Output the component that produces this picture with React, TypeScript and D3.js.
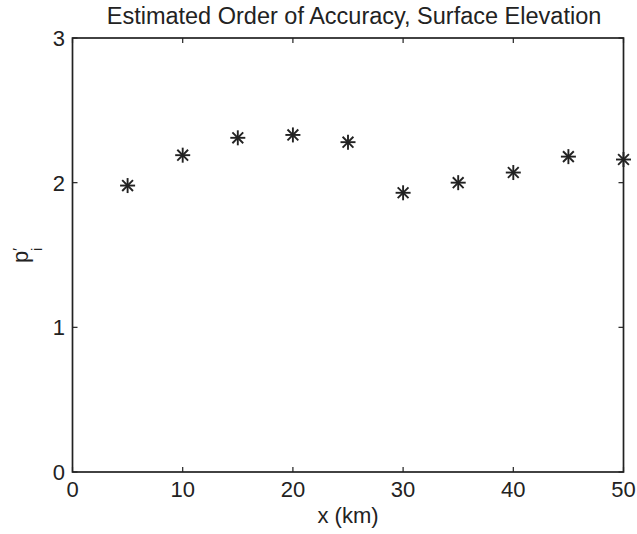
import React from "react";
import * as d3 from "d3";

const xValues = [5, 10, 15, 20, 25, 30, 35, 40, 45, 50];
const pValues = [1.98, 2.19, 2.31, 2.33, 2.28, 1.93, 2.0, 2.07, 2.18, 2.16];
const xTicks = [0, 10, 20, 30, 40, 50];
const yTicks = [0, 1, 2, 3];
const title = "Estimated Order of Accuracy, Surface Elevation";
const xLabel = "x (km)";

export default function App() {
  const W = 637, H = 534;
  const m = { left: 72.5, right: 13.5, top: 38, bottom: 62 };
  const x = d3.scaleLinear().domain([0, 50]).range([m.left, W - m.right]);
  const y = d3.scaleLinear().domain([0, 3]).range([H - m.bottom, m.top]);
  const col = "#222";
  const font = "'Liberation Sans', Arial, Helvetica, sans-serif";
  const fs = 22;
  const tl = 5;
  const r = 7.5;
  const star = (cx: number, cy: number, k: number) => {
    const d = r * 0.72;
    return (
      <g key={k} stroke={col} strokeWidth={1.9}>
        <line x1={cx - r} y1={cy} x2={cx + r} y2={cy} />
        <line x1={cx} y1={cy - r} x2={cx} y2={cy + r} />
        <line x1={cx - d} y1={cy - d} x2={cx + d} y2={cy + d} />
        <line x1={cx - d} y1={cy + d} x2={cx + d} y2={cy - d} />
      </g>
    );
  };
  const [x0, x1] = x.range();
  const [y0, y1] = y.range();
  return (
    <svg width={W} height={H} style={{ position: "absolute", left: 0, top: 0, background: "#fff" }}>
      <rect x={0} y={0} width={W} height={H} fill="#fff" />
      <text x={354} y={23.5} textAnchor="middle" fontFamily={font} fontSize={23.5} fill={col}>
        {title}
      </text>
      <rect x={x0} y={y1} width={x1 - x0} height={y0 - y1} fill="none" stroke={col} strokeWidth={1.7} />
      {xTicks.map((t) => (
        <g key={"x" + t}>
          <line x1={x(t)} x2={x(t)} y1={y0} y2={y0 - tl} stroke={col} strokeWidth={1.2} />
          <line x1={x(t)} x2={x(t)} y1={y1} y2={y1 + tl} stroke={col} strokeWidth={1.2} />
          <text x={x(t)} y={y0 + 25} textAnchor="middle" fontFamily={font} fontSize={fs} fill={col}>
            {t}
          </text>
        </g>
      ))}
      {yTicks.map((t) => (
        <g key={"y" + t}>
          <line x1={x0} x2={x0 + tl} y1={y(t)} y2={y(t)} stroke={col} strokeWidth={1.2} />
          <line x1={x1} x2={x1 - tl} y1={y(t)} y2={y(t)} stroke={col} strokeWidth={1.2} />
          <text x={x0 - 7.5} y={y(t) + 8} textAnchor="end" fontFamily={font} fontSize={fs} fill={col}>
            {t}
          </text>
        </g>
      ))}
      <text x={(x0 + x1) / 2} y={523} textAnchor="middle" fontFamily={font} fontSize={fs} fill={col}>
        {xLabel}
      </text>
      <g transform={`translate(28, 263) rotate(-90)`}>
        <text x={0} y={0} textAnchor="start" fontFamily={font} fontSize={fs} fill={col}>
          p
          <tspan dx={0} dy={-5} fontSize={15}>′</tspan>
          <tspan dx={-3} dy={19} fontSize={14}>i</tspan>
        </text>
      </g>
      {xValues.map((xv, i) => star(x(xv), y(pValues[i]), i))}
    </svg>
  );
}
